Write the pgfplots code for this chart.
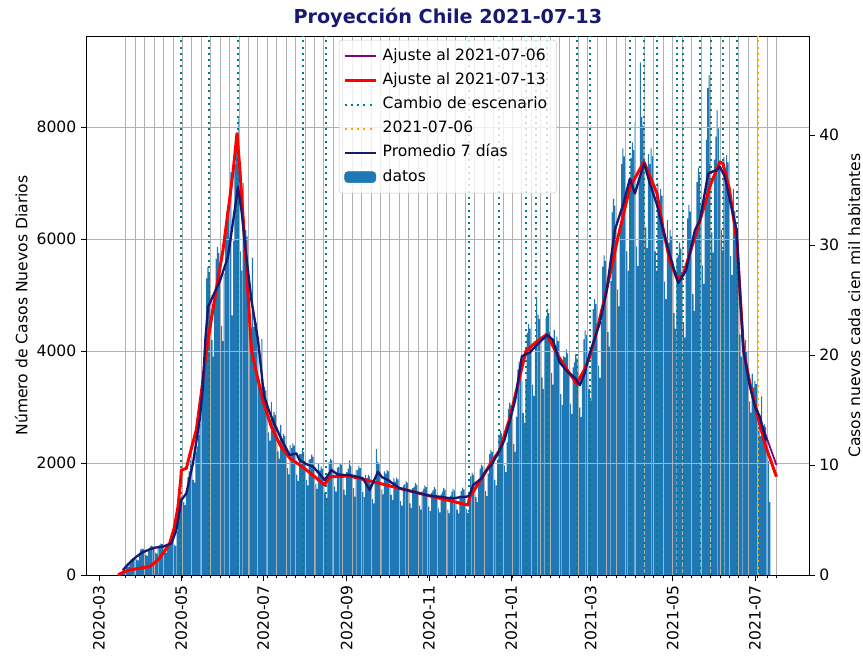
\documentclass[border=0pt]{standalone}
\usepackage{fontspec}
\setmainfont{DejaVu Sans}
\usepackage{pgfplots}
\usepackage{pgfplotstable}
\pgfplotsset{compat=1.18}
\definecolor{c1}{HTML}{1F77B4}
\definecolor{navyC}{HTML}{191970}
\definecolor{purpC}{HTML}{800080}
\definecolor{tealC}{HTML}{008080}
\definecolor{oranC}{HTML}{FFA500}
\definecolor{gridC}{HTML}{B0B0B0}
\newcommand{\fs}{\fontsize{11.7}{14}\selectfont}

% daily cases, first value = day 17 (2020-03-18); day 0 = 2020-03-01
\pgfplotstableread[row sep=\\,header=false]{
60\\90\\120\\150\\140\\150\\200\\
280\\300\\310\\330\\280\\260\\340\\
454\\470\\462\\428\\357\\336\\433\\
508\\526\\517\\479\\400\\376\\484\\
540\\560\\550\\510\\425\\400\\515\\
560\\600\\640\\620\\540\\520\\780\\
1000\\1200\\1400\\1450\\1300\\1250\\1500\\
1750\\1850\\2050\\2000\\1700\\1650\\2200\\
2300\\2500\\2700\\3000\\3300\\3800\\4300\\
5300\\5500\\5400\\5000\\4200\\3900\\5000\\
5650\\5860\\5750\\5330\\4450\\4180\\5390\\
6260\\6500\\6380\\5920\\7200\\4640\\5970\\
7340\\7620\\7480\\8160\\5780\\5440\\7000\\
5940\\6160\\6050\\5610\\4680\\4400\\5670\\
4430\\4590\\4510\\4180\\3490\\3280\\4220\\
3240\\3360\\3300\\3060\\2550\\2400\\3090\\
2810\\2910\\2860\\2650\\2210\\2080\\2680\\
2430\\2520\\2480\\2300\\1910\\1800\\2320\\
2270\\2350\\2310\\2140\\1790\\1680\\2160\\
2160\\2240\\2200\\2040\\1700\\1600\\2060\\
2070\\2150\\2110\\1960\\1630\\1540\\1980\\
1870\\1940\\1900\\1760\\1470\\1380\\1780\\
2010\\2080\\2050\\1900\\1580\\1490\\1920\\
1930\\2000\\1970\\1830\\1520\\1430\\1840\\
1900\\2050\\1950\\1800\\1550\\1400\\1880\\
1880\\1950\\1910\\1770\\1480\\1390\\1790\\
1730\\1790\\1760\\1630\\1360\\1280\\1650\\
2250\\2020\\1980\\1840\\1530\\1440\\1850\\
1810\\1880\\1850\\1710\\1430\\1340\\1730\\
1670\\1740\\1710\\1580\\1320\\1240\\1600\\
1620\\1680\\1650\\1530\\1280\\1200\\1550\\
1580\\1640\\1610\\1490\\1240\\1170\\1500\\
1540\\1600\\1570\\1460\\1220\\1140\\1470\\
1510\\1570\\1540\\1430\\1190\\1120\\1440\\
1490\\1550\\1520\\1410\\1170\\1100\\1420\\
1490\\1540\\1510\\1400\\1170\\1100\\1420\\
1500\\1560\\1530\\1420\\1180\\1110\\1430\\
1760\\1830\\1790\\1660\\1390\\1300\\1680\\
1900\\1970\\1940\\1800\\1500\\1410\\1810\\
2160\\2240\\2200\\2040\\1700\\1600\\2060\\
2480\\2580\\2530\\2350\\1960\\1840\\2370\\
2970\\3080\\3030\\2810\\2340\\2200\\2830\\
3670\\3810\\3740\\3470\\2890\\2720\\3500\\
4320\\4480\\4400\\4080\\3400\\3200\\4120\\
4950\\4650\\4570\\4230\\3530\\3320\\4270\\
4590\\4760\\4680\\4340\\3610\\3400\\4380\\
4100\\4260\\4180\\3880\\3230\\3040\\3910\\
3890\\4030\\3960\\3670\\3060\\2880\\3710\\
3800\\3940\\3870\\3590\\2990\\2820\\3630\\
4210\\4370\\4290\\3980\\3320\\3120\\4020\\
4750\\4930\\4840\\4490\\3740\\3520\\4530\\
5510\\5710\\5610\\5200\\4340\\4080\\5250\\
6480\\6720\\6600\\6120\\5100\\4800\\6180\\
7340\\7620\\7480\\6940\\5780\\5440\\7000\\
7450\\7730\\7590\\8090\\5870\\5520\\7110\\
9160\\8180\\8030\\7450\\6210\\5840\\7520\\
7340\\7620\\7480\\6940\\5780\\5440\\7000\\
6650\\6900\\6780\\6280\\5240\\4930\\6340\\
5940\\6160\\6050\\5610\\4680\\4400\\5670\\
5720\\5940\\5830\\5410\\4510\\4240\\5460\\
6370\\6610\\6490\\6020\\5020\\4720\\6080\\
7020\\7280\\7150\\6630\\5530\\5200\\6700\\
7780\\8700\\8930\\7340\\6120\\5760\\7420\\
7830\\8300\\7980\\7400\\6160\\5800\\7470\\
7240\\7500\\7370\\6830\\5700\\5360\\6900\\
6500\\6300\\5800\\5200\\4300\\3900\\4400\\
4100\\4200\\4000\\3700\\3100\\2900\\3600\\
3350\\3470\\3410\\3160\\2640\\2480\\3190\\
2590\\2690\\2640\\2450\\2040\\1300\\
}\bardata

\begin{document}
\begin{tikzpicture}
\begin{axis}[
  set layers,
  scale only axis, width=541.7pt, height=404.25pt,
  xmin=-9.1, xmax=527.1, ymin=0, ymax=9630,
  xtick={0,61,122,184,245,306,365,426,487},
  xticklabels={2020-03,2020-05,2020-07,2020-09,2020-11,2021-01,2021-03,2021-05,2021-07},
  minor xtick={20,27,...,503},
  xticklabel style={rotate=90, anchor=east},
  ytick={0,2000,4000,6000,8000},
  tick pos=left, tick align=outside,
  major tick length=4.2pt, minor tick length=2.4pt,
  tick style={black, line width=0.6pt},
  xminorgrids=true, ymajorgrids=true, xmajorgrids=false,
  grid style={gridC, line width=0.6pt},
  minor grid style={gridC, line width=0.6pt},
  axis line style={line width=0.6pt},
  ticklabel style={font=\fs},
  /pgf/number format/assume math mode=true,
  /pgf/number format/1000 sep={},
  ylabel={Número de Casos Nuevos Diarios},
  label style={font=\fs},
  title={Proyección Chile 2021-07-13},
  title style={font=\fontsize{14.4}{16}\selectfont\bfseries, text=navyC, yshift=-3pt},
  legend cell align=left,
  legend style={at={(0.5,0.993)}, anchor=north, draw=black!20, rounded corners=2.5pt,
    fill=white, fill opacity=0.8, text opacity=1, draw opacity=1, font=\fs,
    inner xsep=3pt, inner ysep=3pt, row sep=0pt,
    nodes={inner ysep=3.07pt, inner xsep=4pt, text height=9pt, text depth=3pt}},
  legend image code/.code={\draw[#1] (0pt,0pt) -- (23.4pt,0pt);},
]
\addlegendimage{purpC, line width=1.3pt}
\addlegendentry{Ajuste al 2021-07-06}
\addlegendimage{red, line width=2.25pt}
\addlegendentry{Ajuste al 2021-07-13}
\addlegendimage{tealC, line width=1.5pt, dash pattern=on 1.5pt off 3.2pt}
\addlegendentry{Cambio de escenario}
\addlegendimage{oranC, line width=1.5pt, dash pattern=on 1.5pt off 3.2pt}
\addlegendentry{2021-07-06}
\addlegendimage{navyC, line width=1.75pt}
\addlegendentry{Promedio 7 días}
\addlegendimage{legend image code/.code={\fill[c1, fill opacity=1] (0pt,-4.1pt) rectangle (23.4pt,4.1pt);}}
\addlegendentry{datos}

\addplot[ybar, bar width=0.8, fill=c1, draw=none, on layer=axis background, forget plot]
  table[x expr=\coordindex+17, y index=0]{\bardata};

\addplot[ycomb, tealC, line width=1.5pt, dash pattern=on 1.5pt off 3.2pt, forget plot] coordinates {
(60.7,9630) (81.5,9630) (103.0,9630) (151.3,9630) (168.4,9630) (274.6,9630) (296.9,9630)
(316.9,9630) (324.3,9630) (332.5,9630) (354.8,9630) (364.4,9630) (394.2,9630) (404.6,9630)
(414.3,9630) (429.1,9630) (433.6,9630) (446.2,9630) (454.4,9630) (463.3,9630) (473.7,9630)};
\addplot[ycomb, oranC, line width=1.5pt, dash pattern=on 1.5pt off 3.2pt, forget plot] coordinates {(489.5,9630)};

\addplot[purpC, line width=1.3pt, line join=round, forget plot] coordinates {
(404.6,7380) (414.3,6820) (419,6161) (424,5600) (429.1,5300) (433.6,5350) (440,5850)
(446.2,6339) (454.4,7000) (461,7380) (463.3,7350) (468,6900) (473.7,5950) (478.5,4018)
(483,3450) (487,3050) (491,2780) (495,2500) (503,1964)};

\addplot[red, line width=2.25pt, line join=round, forget plot] coordinates {
(14.1,0) (18,50) (22.8,89) (30,120) (37.7,149) (43.8,268) (48,400) (52.5,565) (56,850)
(58.7,1220) (60.7,1700) (61.2,1875) (64.9,1905) (68.5,2250) (72.3,2589) (76,3250)
(79.8,4018) (86,4950) (92.1,5804) (97,6700) (100,7300) (102.5,7887) (104.5,7292)
(107,6400) (109.5,5505) (113.2,4018) (118,3500) (122,3100) (128,2650) (135,2300)
(142,2080) (151.3,1929) (160,1760) (167.6,1607) (168.4,1650) (171.4,1756) (186,1768)
(198.6,1696) (223.3,1548) (248,1399) (274,1250) (275.3,1399) (280,1570) (286,1800)
(291,2000) (297.6,2232) (305,2800) (312,3500) (317,4000) (324,4150) (332.5,4300)
(340,3950) (348,3650) (354.8,3420) (360,3650) (364.4,3900) (370,4400) (376,5000)
(385,6000) (394.2,6930) (404.6,7380) (414.3,6820) (419,6161) (424,5600) (429.1,5300)
(433.6,5350) (440,5850) (446.2,6339) (454.4,7000) (461,7380) (463.3,7350) (468,6900)
(473.7,5950) (478.5,4018) (483,3450) (487,3050) (491,2650) (495,2300) (503,1756)};

\addplot[navyC, line width=1.75pt, line join=round, forget plot] coordinates {
(17.8,89) (22,200) (27.8,327) (32,400) (37.7,458) (42,490) (47.5,506) (53.8,565)
(57.5,804) (61.2,1339) (64.9,1458) (69.8,1994) (74.8,2768) (77,3300) (79,4200) (81,4792)
(85,5000) (89.6,5238) (95.8,5684) (100.8,6518) (103.2,6934) (105.8,6518) (109.5,5684)
(113.2,4911) (118.1,4196) (122.5,3214) (126,2950) (130.6,2680) (136,2400) (141.6,2143)
(146.6,2173) (149,2054) (154,1980) (159,1934) (164,1800) (167.6,1696) (172.6,1875)
(177,1800) (181.3,1786) (186,1786) (191,1760) (196,1726) (201,1518) (207.2,1845)
(210,1750) (214.7,1696) (219,1620) (223.3,1548) (228,1520) (233.2,1488) (238,1460)
(243,1429) (248,1410) (253,1399) (258,1380) (263,1369) (268,1390) (272.9,1399)
(275,1420) (277.8,1607) (284,1726) (287,1850) (291.4,1964) (297.6,2232) (301,2410)
(305,2750) (309,3125) (314,3910) (320,3980) (325,4107) (329,4200) (333,4290) (337,4200)
(342,3800) (348,3625) (353.5,3520) (357,3390) (360.6,3600) (364,3930) (371.8,4500)
(377,5090) (383,6161) (389.4,6637) (394.2,7083) (397.9,6815) (401.6,7113) (404.8,7351)
(409,6994) (414,6637) (418.9,6161) (424,5700) (430,5215) (436,5450) (442.4,6161)
(446.2,6339) (452.3,7173) (455,7203) (458.5,7232) (461,7292) (464.7,7113) (468.4,6696)
(473.4,6161) (476,5000) (478.5,4020) (483,3400) (487,3006) (490.7,2827) (494.4,2470)
(495.5,2400)};
\end{axis}

\begin{axis}[
  scale only axis, width=541.7pt, height=404.25pt,
  xmin=-9.1, xmax=527.1, ymin=0, ymax=49.03,
  axis x line=none, axis y line*=right,
  ytick={0,10,20,30,40},
  tick align=outside, major tick length=4.2pt,
  tick style={black, line width=0.6pt},
  axis line style={line width=0.6pt, -},
  ticklabel style={font=\fs},
  /pgf/number format/assume math mode=true,
  ylabel={Casos nuevos cada cien mil habitantes},
  label style={font=\fs},
  ylabel style={at={(ticklabel cs:0.5)}, anchor=north},
]
\addplot[draw=none, forget plot] coordinates {(0,0)};
\end{axis}
\pgfresetboundingbox
\path[use as bounding box] (-65pt,-61.5pt) rectangle (582.25pt,431.25pt);
\end{tikzpicture}
\end{document}
